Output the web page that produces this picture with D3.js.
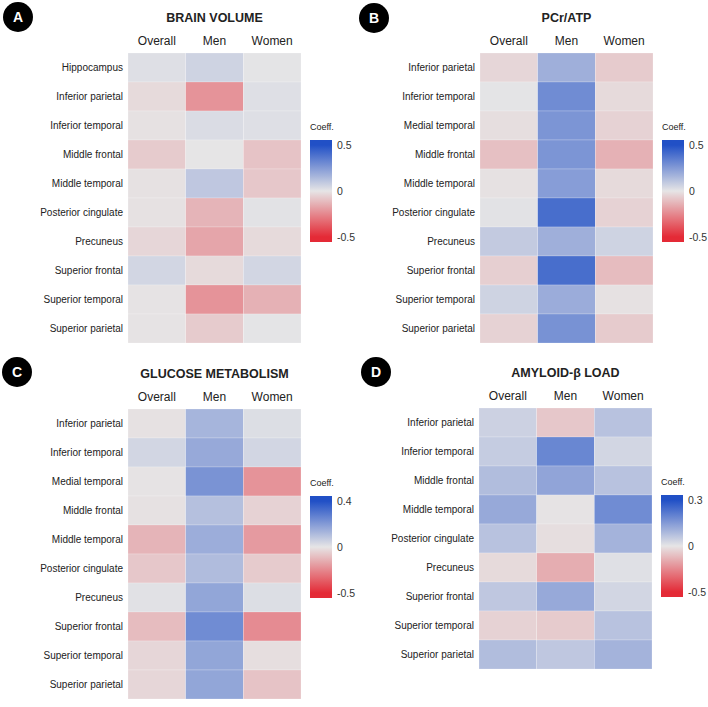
<!DOCTYPE html>
<html>
<head>
<meta charset="utf-8">
<script src="https://cdn.jsdelivr.net/npm/d3@7"></script>
<style>
  body { margin: 0; background: #fff; }
  text { font-family: "Liberation Sans", Arial, sans-serif; fill: #222; }
</style>
</head>
<body>
<div id="chart"></div>
<script>
// columns shared by every panel
var groups = ["Overall", "Men", "Women"];

// A: brain volume
var volRegions = ["Hippocampus", "Inferior parietal", "Inferior temporal", "Middle frontal", "Middle temporal",
  "Posterior cingulate", "Precuneus", "Superior frontal", "Superior temporal", "Superior parietal"];
var volOverall = [0.02, -0.03, -0.01, -0.07, -0.01, -0.01, -0.04, 0.05, -0.005, -0.005];
var volMen     = [0.06, -0.22, 0.03, 0.0, 0.1, -0.13, -0.17, -0.03, -0.22, -0.07];
var volWomen   = [0.005, 0.02, 0.02, -0.09, -0.08, 0.01, -0.03, 0.05, -0.14, 0.005];
var volTicks   = [-0.5, 0, 0.5];

// B: PCr/ATP
var pcrRegions = ["Inferior parietal", "Inferior temporal", "Medial temporal", "Middle frontal", "Middle temporal",
  "Posterior cingulate", "Precuneus", "Superior frontal", "Superior temporal", "Superior parietal"];
var pcrOverall = [-0.04, 0.005, -0.02, -0.1, -0.01, 0.01, 0.09, -0.06, 0.06, -0.05];
var pcrMen     = [0.18, 0.3, 0.27, 0.27, 0.24, 0.4, 0.18, 0.4, 0.19, 0.28];
var pcrWomen   = [-0.07, -0.03, -0.05, -0.14, -0.03, -0.05, 0.06, -0.11, -0.01, -0.07];
var pcrTicks   = [-0.5, 0, 0.5];

// C: glucose metabolism
var gluRegions = ["Inferior parietal", "Inferior temporal", "Medial temporal", "Middle frontal", "Middle temporal",
  "Posterior cingulate", "Precuneus", "Superior frontal", "Superior temporal", "Superior parietal"];
var gluOverall = [-0.01, 0.04, -0.005, -0.01, -0.13, -0.08, 0.01, -0.11, -0.04, -0.04];
var gluMen     = [0.13, 0.16, 0.22, 0.1, 0.15, 0.11, 0.17, 0.24, 0.17, 0.17];
var gluWomen   = [0.02, 0.04, -0.22, -0.05, -0.2, -0.07, 0.02, -0.24, -0.02, -0.09];
var gluTicks   = [-0.5, 0, 0.4];

// D: amyloid-beta load
var amyRegions = ["Inferior parietal", "Inferior temporal", "Middle frontal", "Middle temporal",
  "Posterior cingulate", "Precuneus", "Superior frontal", "Superior temporal", "Superior parietal"];
var amyOverall = [0.04, 0.05, 0.08, 0.12, 0.07, -0.03, 0.06, -0.05, 0.08];
var amyMen     = [-0.08, 0.19, 0.13, -0.005, -0.02, -0.15, 0.12, -0.07, 0.06];
var amyWomen   = [0.07, 0.03, 0.07, 0.18, 0.1, 0.01, 0.03, 0.07, 0.1];
var amyTicks   = [-0.5, 0, 0.3];

var panels = [
  {letter: "A", title: "BRAIN VOLUME", rows: volRegions, cols: [volOverall, volMen, volWomen], ticks: volTicks,
   ox: 0, oy: 0, cx: 18, cy: 17},
  {letter: "B", title: "PCr/ATP", rows: pcrRegions, cols: [pcrOverall, pcrMen, pcrWomen], ticks: pcrTicks,
   ox: 352, oy: 0, cx: 374, cy: 18},
  {letter: "C", title: "GLUCOSE METABOLISM", rows: gluRegions, cols: [gluOverall, gluMen, gluWomen], ticks: gluTicks,
   ox: 0, oy: 356, cx: 17, cy: 372},
  {letter: "D", title: "AMYLOID-\u03b2 LOAD", rows: amyRegions, cols: [amyOverall, amyMen, amyWomen], ticks: amyTicks,
   ox: 351, oy: 355, cx: 376, cy: 372}
];

var W = 708, H = 707;
var gridX = 128, gridY = 53, gridW = 173, rowH = 29;
var lowCol = "#e42a36", midCol = "#e6e5e6", highCol = "#2150c6";

var svg = d3.select("#chart").append("svg")
    .attr("width", W)
    .attr("height", H);

var defs = svg.append("defs");

panels.forEach(function(p, pi) {
    var lo = p.ticks[0], hi = p.ticks[2];

    var color = d3.scaleLinear()
        .domain([lo, 0, hi])
        .range([lowCol, midCol, highCol])
        .interpolate(d3.interpolateRgb)
        .clamp(true);

    // badge
    svg.append("circle")
        .attr("cx", p.cx).attr("cy", p.cy).attr("r", 15)
        .attr("fill", "#000");
    svg.append("text")
        .attr("x", p.cx).attr("y", p.cy + 5)
        .attr("text-anchor", "middle")
        .style("font-weight", "bold").style("font-size", "14px")
        .style("fill", "#fff")
        .text(p.letter);

    var g = svg.append("g").attr("transform", "translate(" + p.ox + "," + p.oy + ")");

    var x = d3.scaleBand().domain(groups).range([gridX, gridX + gridW]);
    var y = d3.scaleBand().domain(p.rows).range([gridY, gridY + rowH * p.rows.length]);

    g.append("text")
        .attr("x", gridX + gridW / 2).attr("y", gridY - 31)
        .attr("text-anchor", "middle")
        .style("font-weight", "bold").style("font-size", "12.5px")
        .text(p.title);

    // column headers
    g.selectAll(".colhead")
        .data(groups)
        .enter().append("text")
        .attr("x", function(d) { return x(d) + x.bandwidth() / 2; })
        .attr("y", gridY - 8)
        .attr("text-anchor", "middle")
        .style("font-size", "12px")
        .text(function(d) { return d; });

    // row labels
    g.selectAll(".rowlab")
        .data(p.rows)
        .enter().append("text")
        .attr("x", gridX - 5)
        .attr("y", function(d) { return y(d) + y.bandwidth() / 2 + 3.5; })
        .attr("text-anchor", "end")
        .style("font-size", "10px")
        .text(function(d) { return d; });

    // cells
    var cells = [];
    p.cols.forEach(function(vals, ci) {
        vals.forEach(function(v, ri) {
            cells.push({col: groups[ci], row: p.rows[ri], value: v});
        });
    });

    g.selectAll(".cell")
        .data(cells)
        .enter().append("rect")
        .attr("x", function(d) { return x(d.col); })
        .attr("y", function(d) { return y(d.row); })
        .attr("width", x.bandwidth())
        .attr("height", y.bandwidth())
        .attr("fill", function(d) { return color(d.value); })
        .attr("stroke", "#fff")
        .attr("stroke-opacity", 0.35)
        .attr("stroke-width", 0.6);

    // colour legend
    var lx = 310, ly = gridY + 87, lw = 22, lh = 102;
    g.append("text")
        .attr("x", lx).attr("y", ly - 10)
        .style("font-size", "9px")
        .text("Coeff.");

    var ls = d3.scaleLinear()
        .domain([lo, 0, hi])
        .range([ly + lh - 5, ly + lh / 2, ly + 5]);

    var gid = "grad" + pi;
    var grad = defs.append("linearGradient")
        .attr("id", gid)
        .attr("x1", 0).attr("y1", 1).attr("x2", 0).attr("y2", 0);
    d3.range(0, 1.0001, 0.05).forEach(function(t) {
        var py = ly + lh - t * lh;
        grad.append("stop")
            .attr("offset", t)
            .attr("stop-color", color(ls.invert(py)));
    });

    g.append("rect")
        .attr("x", lx).attr("y", ly)
        .attr("width", lw).attr("height", lh)
        .attr("fill", "url(#" + gid + ")");

    var ax = d3.axisRight(ls).tickValues(p.ticks).tickSize(0).tickPadding(5)
        .tickFormat(function(d) { return d === 0 ? "0" : String(d); });
    var axg = g.append("g")
        .attr("transform", "translate(" + (lx + lw) + ",0)")
        .call(ax);
    axg.select(".domain").remove();
    axg.selectAll("text").style("font-size", "10.5px").style("fill", "#333")
        .style("font-family", "'Liberation Sans', Arial, sans-serif");
});
</script>
</body>
</html>
